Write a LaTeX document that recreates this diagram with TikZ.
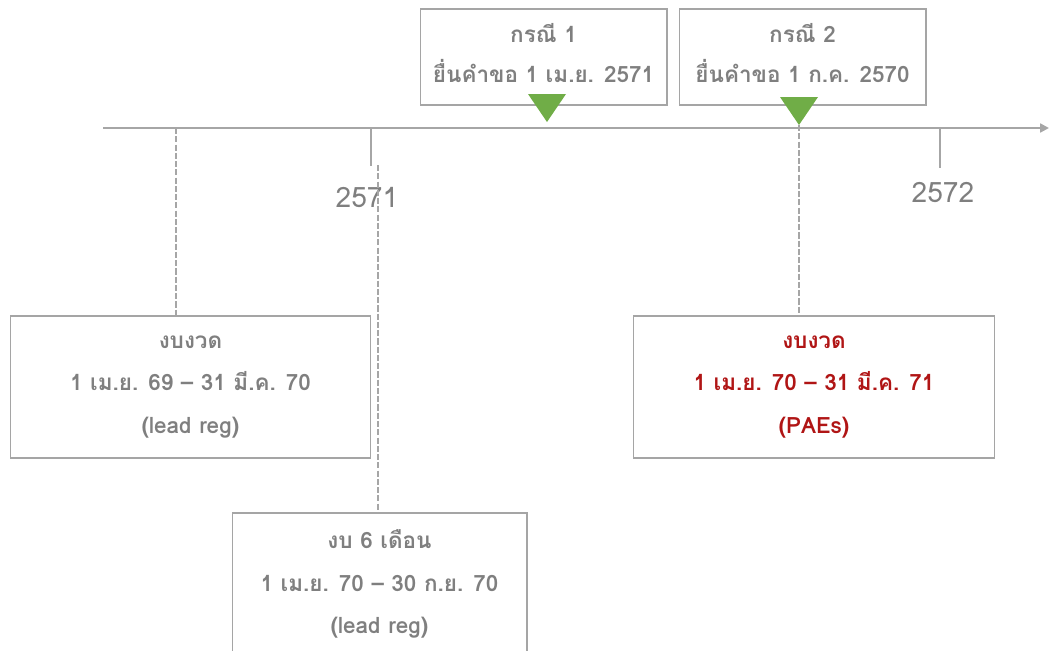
\documentclass[tikz,border=0pt]{standalone}
\usepackage{fontspec}
\newfontfamily\thaifont[Script=Thai]{Loma}
\usetikzlibrary{arrows.meta}
\definecolor{txtgray}{HTML}{7F7F7F}
\definecolor{linegray}{HTML}{A6A6A6}
\definecolor{boxgray}{HTML}{A5A5A5}
\definecolor{pingreen}{HTML}{70AD47}
\definecolor{budgetred}{HTML}{B01515}
\tikzset{
	periodbox/.style={draw=boxgray, line width=0.6pt, inner sep=0pt, align=center,
		text=txtgray, font=\thaifont\bfseries\fontsize{12.8}{24.4}\selectfont},
	casebox/.style={draw=boxgray, line width=0.6pt, inner sep=0pt,
		minimum width=4.94cm, minimum height=1.92cm},
	casetext/.style={align=center, inner sep=0pt, text=txtgray,
		font=\thaifont\bfseries\fontsize{12.8}{23.2}\selectfont},
	guide/.style={draw=linegray, line width=1.1pt, dash pattern=on 3.5pt off 1.2pt},
	yearlabel/.style={text=txtgray, font=\thaifont\fontsize{16}{16}\selectfont}
}
\begin{document}
\begin{tikzpicture}[x=0.02cm, y=-0.02cm]
	\useasboundingbox (0,0) rectangle (1049,650);
	\clip (0,0) rectangle (1049,650);
	% time axis
	\coordinate (start) at (103,128);
	\coordinate (end) at (1049,128);
	\draw[linegray, line width=1.7pt, -{Triangle[length=5pt,width=5pt]}] (start) -- (end);
	\coordinate (y71) at (371,128);
	\coordinate (y72) at (940,128);
	\draw[linegray, line width=1.6pt] (y71) -- ++(0,38);
	\draw[linegray, line width=1.6pt] (y72) -- ++(0,40);
	\node[yearlabel] (lab71) at (367,197) {2571};
	\node[yearlabel] (lab72) at (943,192) {2572};
	% cases
	\node[casebox] (case1) at (543.5,57) {};
	\node[casebox] (case2) at (802.5,57) {};
	\node[casetext] (case1text) at ([yshift=2.3pt]case1.center) {กรณี 1\\ยื่นคำขอ 1 เม.ย. 2571};
	\node[casetext] (case2text) at ([yshift=2.3pt]case2.center) {กรณี 2\\ยื่นคำขอ 1 ก.ค. 2570};
	\coordinate (pin1) at (547,122);
	\coordinate (pin2) at (799,125);
	\fill[pingreen] (pin1) -- ++(-19,-28) -- ++(38,0) -- cycle;
	\fill[pingreen] (pin2) -- ++(-19,-28) -- ++(38,0) -- cycle;
	% periods
	\node[periodbox, minimum width=7.22cm, minimum height=2.84cm] (lead) at (190.5,387)
		{งบงวด\\1 เม.ย. 69 – 31 มี.ค. 70\\(lead reg)};
	\node[periodbox, minimum width=5.9cm, minimum height=2.84cm] (half) at (379.5,584)
		{งบ 6 เดือน\\1 เม.ย. 70 – 30 ก.ย. 70\\(lead reg)};
	\node[periodbox, text=budgetred, minimum width=7.24cm, minimum height=2.84cm] (paes) at (814,387)
		{งบงวด\\1 เม.ย. 70 – 31 มี.ค. 71\\(PAEs)};
	\coordinate (d1) at (176,128);
	\coordinate (d2) at (378,165);
	\draw[guide] (d1) -- (d1 |- lead.north);
	\draw[guide] (d2) -- (d2 |- half.north);
	\draw[guide] (pin2) -- (pin2 |- paes.north);
\end{tikzpicture}
\end{document}
